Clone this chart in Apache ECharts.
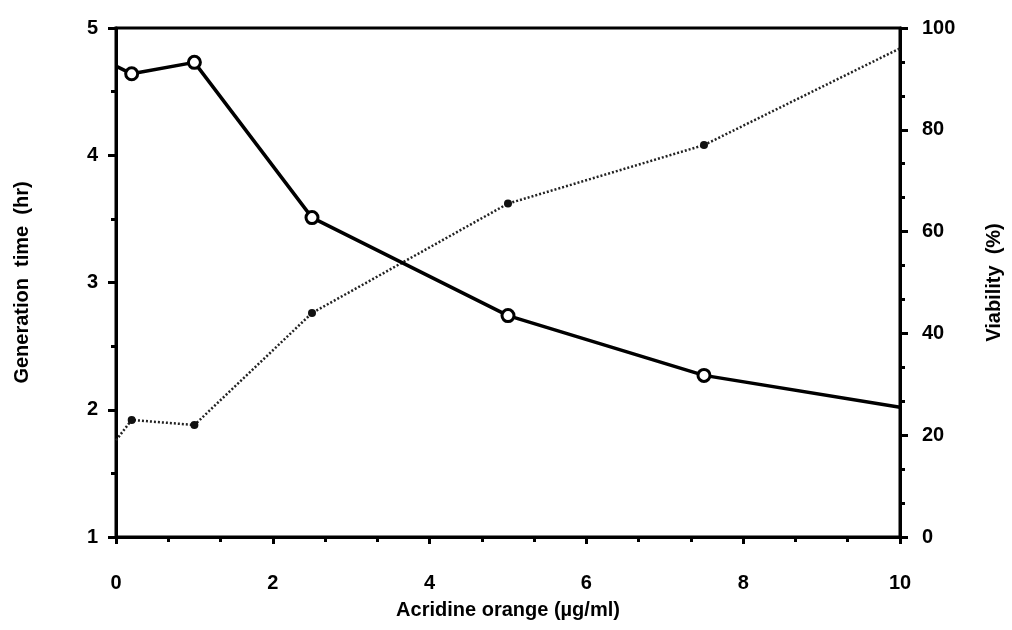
<!DOCTYPE html>
<html>
<head>
    <meta charset="UTF-8">
    <title>Acridine orange</title>
    <script src="https://cdn.jsdelivr.net/npm/echarts@6/dist/echarts.min.js"></script>
    <style>
        html, body { margin: 0; padding: 0; background: #fff; }
        #main { width: 1012px; height: 630px; }
    </style>
</head>
<body>
<div id="main"></div>
<script type="text/javascript">
    // x values (acridine orange, ug/ml)
    var doseGen = [0, 0.2, 1, 2.5, 5, 7.5, 10];
    var genTime = [4.70, 4.64, 4.73, 3.51, 2.74, 2.27, 2.02];
    var doseVia = [0, 0.2, 1, 2.5, 5, 7.5, 10];
    var viability = [19, 23, 22, 44, 65.5, 77, 96];
    var xTicks = [0, 2, 4, 6, 8, 10];
    var genTicks = [1, 2, 3, 4, 5];
    var viaTicks = [0, 20, 40, 60, 80, 100];

    function pairs(xs, ys) {
        var out = [];
        for (var i = 0; i < xs.length; i++) {
            out.push([xs[i], ys[i]]);
        }
        return out;
    }

    var fam = '"Liberation Sans", Arial, sans-serif';
    var labelStyle = {color: '#000', fontSize: 20, fontWeight: 'bold', fontFamily: fam};
    var nameStyle = {color: '#000', fontSize: 20, fontWeight: 'bold', fontFamily: fam};

    var myChart = echarts.init(document.getElementById('main'));
    var option = {
        animation: false,
        backgroundColor: '#fff',
        grid: {
            left: 116, right: 109, top: 28, bottom: 93,
            show: true, borderColor: '#000', borderWidth: 3
        },
        xAxis: {
            type: 'value',
            min: xTicks[0], max: xTicks[xTicks.length - 1], interval: 2,
            name: 'Acridine orange (µg/ml)',
            nameLocation: 'middle', nameGap: 63,
            nameTextStyle: nameStyle,
            axisLine: {show: true, lineStyle: {color: '#000', width: 3}},
            axisTick: {show: true, length: 7, lineStyle: {color: '#000', width: 3}},
            minorTick: {show: true, splitNumber: 3, length: 5, lineStyle: {color: '#000', width: 3}},
            axisLabel: Object.assign({margin: 36}, labelStyle),
            splitLine: {show: false}
        },
        yAxis: [
            {
                type: 'value', position: 'left',
                min: genTicks[0], max: genTicks[genTicks.length - 1], interval: 1,
                name: 'Generation  time  (hr)',
                nameLocation: 'middle', nameGap: 84, nameRotate: 90,
                nameTextStyle: nameStyle,
                axisLine: {show: true, lineStyle: {color: '#000', width: 3}},
                axisTick: {show: true, length: 8, lineStyle: {color: '#000', width: 3}},
                minorTick: {show: true, splitNumber: 2, length: 5, lineStyle: {color: '#000', width: 3}},
                axisLabel: Object.assign({margin: 18}, labelStyle),
                splitLine: {show: false}
            },
            {
                type: 'value', position: 'right',
                min: viaTicks[0], max: viaTicks[viaTicks.length - 1], interval: 20,
                name: 'Viability  (%)',
                nameLocation: 'middle', nameGap: 84, nameRotate: 90,
                nameTextStyle: nameStyle,
                axisLine: {show: true, lineStyle: {color: '#000', width: 3}},
                axisTick: {show: true, length: 8, lineStyle: {color: '#000', width: 3}},
                minorTick: {show: true, splitNumber: 3, length: 5, lineStyle: {color: '#000', width: 3}},
                axisLabel: Object.assign({margin: 22}, labelStyle),
                splitLine: {show: false}
            }
        ],
        series: [
            {
                name: 'Generation time',
                type: 'line',
                yAxisIndex: 0,
                data: pairs(doseGen, genTime),
                symbol: 'circle',
                symbolSize: function (v, p) { return p.dataIndex === 0 || p.dataIndex === 6 ? 0 : 12; },
                itemStyle: {color: '#fff', borderColor: '#000', borderWidth: 3},
                lineStyle: {color: '#000', width: 3.5},
                z: 3
            },
            {
                name: 'Viability',
                type: 'line',
                yAxisIndex: 1,
                data: pairs(doseVia, viability),
                symbol: 'circle',
                symbolSize: function (v, p) { return p.dataIndex === 0 || p.dataIndex === 6 ? 0 : 8; },
                itemStyle: {color: '#111'},
                lineStyle: {color: '#222', width: 2.5, type: [2, 2]},
                z: 2
            }
        ]
    };
    myChart.setOption(option);
</script>
</body>
</html>
